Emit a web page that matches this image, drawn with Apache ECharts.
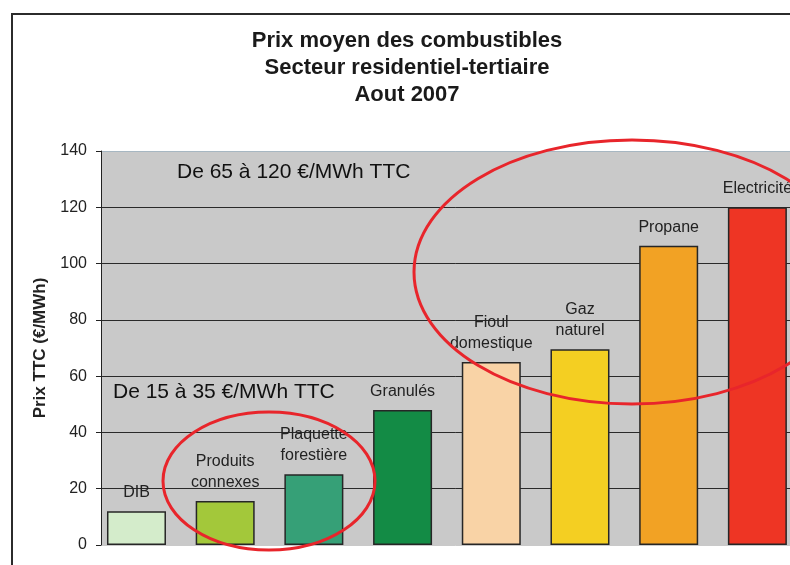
<!DOCTYPE html>
<html>
<head>
<meta charset="utf-8">
<script src="https://cdn.jsdelivr.net/npm/echarts@6/dist/echarts.min.js"></script>
<style>
html,body{margin:0;padding:0;background:#fff;overflow:hidden;}
#c{width:840px;height:565px;}
</style>
</head>
<body>
<div id="c"></div>
<script>
const categories = ['DIB', 'Produits\nconnexes', 'Plaquette\nforestière', 'Granulés', 'Fioul\ndomestique', 'Gaz\nnaturel', 'Propane', 'Electricité'];
const prices = [12, 15.6, 25.1, 48, 65, 69.6, 106.3, 120];
const yTicks = [0, 20, 40, 60, 80, 100, 120, 140];
const barColors = ['#d4eccb', '#a3c83a', '#36a077', '#138b45', '#f9d3a6', '#f4cf22', '#f2a224', '#ee3524'];

const FONT = '"Liberation Sans", Arial, sans-serif';
const chart = echarts.init(document.getElementById('c'));

const bandPx = 88.7;
const xMin = -0.4, xMax = 7.6;
const gridLeft = 101;
const gridWidth = (xMax - xMin) * bandPx;

chart.setOption({
  backgroundColor: '#ffffff',
  animation: false,
  grid: {
    left: gridLeft, top: 151, bottom: 20,
    width: gridWidth,
    show: true, backgroundColor: '#c9c9c9', borderWidth: 0
  },
  xAxis: {
    type: 'value', min: xMin, max: xMax,
    axisLine: {show: false}, axisTick: {show: false},
    axisLabel: {show: false}, splitLine: {show: false}
  },
  yAxis: {
    type: 'value', min: yTicks[0], max: yTicks[yTicks.length - 1], interval: 20,
    name: 'Prix TTC (€/MWh)', nameLocation: 'middle', nameRotate: 90, nameGap: 52,
    nameTextStyle: {fontFamily: FONT, fontWeight: 'bold', fontSize: 17, color: '#222'},
    axisLine: {show: true, onZero: false, lineStyle: {color: '#222', width: 1}},
    axisTick: {show: true, inside: false, length: 5, lineStyle: {color: '#222'}},
    axisLabel: {fontFamily: FONT, fontSize: 16, color: '#222', margin: 14},
    splitLine: {show: true, lineStyle: {color: ['#c9c9c9', '#2a2a2a', '#2a2a2a', '#2a2a2a', '#2a2a2a', '#2a2a2a', '#2a2a2a', '#a7b7c2'], width: 1}}
  },
  series: [{
    type: 'bar',
    barWidth: 59,
    data: prices.map((v, i) => ({value: [i, v], itemStyle: {color: barColors[i]}})),
    itemStyle: {borderColor: '#262626', borderWidth: 1.5},
    label: {
      show: true, position: 'top', distance: 8,
      formatter: p => categories[p.dataIndex],
      fontFamily: FONT, fontSize: 16, color: '#222', lineHeight: 21, align: 'center'
    }
  }],
  graphic: [
    {type: 'rect', z: 100, silent: true, shape: {x: 12, y: 14, width: 900, height: 700},
     style: {fill: 'none', stroke: '#2b2b2b', lineWidth: 2}},
    {type: 'text', z: 100, style: {text: 'Prix moyen des combustibles\nSecteur residentiel-tertiaire\nAout 2007',
      x: 407, y: 27, textAlign: 'center', textVerticalAlign: 'top',
      font: 'bold 22px ' + FONT, lineHeight: 27, fill: '#1a1a1a'}},
    {type: 'text', z: 100, style: {text: 'De 65 à 120 €/MWh TTC', x: 177, y: 172,
      textAlign: 'left', textVerticalAlign: 'middle', font: '21px ' + FONT, fill: '#111'}},
    {type: 'text', z: 100, style: {text: 'De 15 à 35 €/MWh TTC', x: 113, y: 392,
      textAlign: 'left', textVerticalAlign: 'middle', font: '21px ' + FONT, fill: '#111'}},
    {type: 'ellipse', z: 110, silent: true, shape: {cx: 269, cy: 481, rx: 106, ry: 69},
      style: {fill: 'none', stroke: '#e8252b', lineWidth: 3}},
    {type: 'ellipse', z: 110, silent: true, shape: {cx: 632, cy: 272, rx: 218, ry: 132},
      style: {fill: 'none', stroke: '#e8252b', lineWidth: 3}}
  ]
});
</script>
</body>
</html>
